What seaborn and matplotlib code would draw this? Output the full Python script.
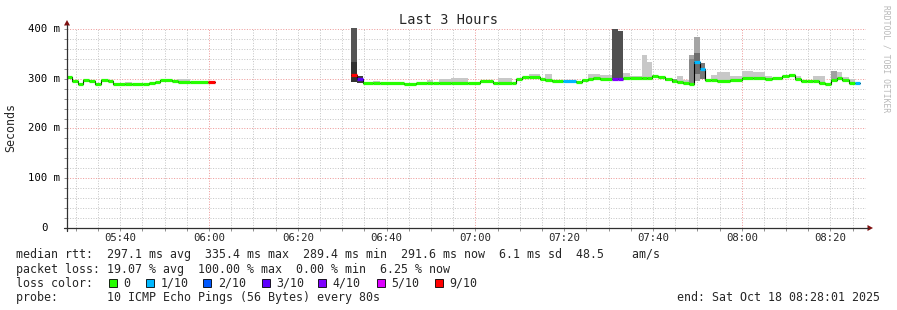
import numpy as np
import pandas as pd
import matplotlib
matplotlib.use("Agg")
import matplotlib.pyplot as plt
import matplotlib.transforms as mtransforms
from matplotlib.patches import Polygon, Rectangle
from matplotlib.lines import Line2D
import seaborn as sns

# ---------------- data ----------------
start_clock = "05:28"          # left edge of the time axis (end 08:28:01, 3 hours)
end_minute = 178.7             # last sample end (minutes after start)

# segment start (minutes after 05:28), median RTT (ms), lost pings (of 10)
seg_start = [0.00, 1.13, 2.48, 3.61, 4.96, 6.31, 7.66, 9.24, 10.37, 13.10,
             14.65, 17.13, 18.48, 19.83, 20.96, 23.66, 25.01, 27.70, 31.77, 33.35,
             64.00, 65.35, 66.70, 69.00, 70.50, 75.94, 78.65, 81.10, 82.50, 83.80,
             86.50, 90.40, 93.10, 96.00, 97.10, 100.30, 101.18, 102.54, 104.10, 106.59,
             107.72, 109.30, 111.77, 114.70, 116.06, 117.41, 118.54, 120.11, 122.82, 124.17,
             125.30, 126.87, 129.58, 130.70, 131.83, 133.18, 134.76, 136.34, 137.46, 138.82,
             140.17, 141.30, 142.65, 143.77, 145.00, 146.48, 149.41, 152.11, 154.59, 157.30,
             158.87, 161.13, 162.70, 164.06, 165.41, 166.76, 168.11, 169.46, 170.82, 172.17,
             173.52, 174.65, 176.23, 177.58]
median_ms = [303, 296, 290, 297.5, 295, 290, 297.5, 295, 290, 290,
             290, 289, 291.5, 294, 297.5, 295.5, 293, 293, 293, np.nan,
             307, 299, 292, 292, 292, 289.5, 292, 292, 292, 292,
             292, 292, 295, 292, 292, 292, 299, 303, 303, 300,
             297, 296, 296, 293, 297.5, 299.5, 301, 300, 300, 300,
             301, 301, 301, 301, 305, 303, 299, 295, 294, 292,
             289.5, 333, 319, 298, 298, 295, 297.5, 301.5, 301.5, 300,
             301.5, 305, 307, 299.5, 296, 296, 295, 292, 289.5, 297.5,
             301.5, 297.5, 292, 292]
loss = [0, 0, 0, 0, 0, 0, 0, 0, 0, 0,
        0, 0, 0, 0, 0, 0, 0, 0, 9, 0,
        9, 3, 0, 0, 0, 0, 0, 0, 0, 0,
        0, 0, 0, 0, 0, 0, 0, 0, 0, 0,
        0, 0, 1, 0, 0, 0, 0, 0, 4, 4,
        0, 0, 0, 0, 0, 0, 0, 0, 0, 0,
        0, 1, 1, 0, 0, 0, 0, 0, 0, 0,
        0, 0, 0, 0, 0, 0, 0, 0, 0, 0,
        0, 0, 0, 1]
# smoke (spread of the individual pings), ms, and its grey level (0-255)
smoke_lo = [np.nan, np.nan, np.nan, np.nan, np.nan, np.nan, np.nan, 295, np.nan, 290,
            np.nan, np.nan, 288, np.nan, np.nan, np.nan, 293, np.nan, np.nan, np.nan,
            294, 292, np.nan, 292, np.nan, np.nan, np.nan, 292, np.nan, 292,
            292, np.nan, np.nan, np.nan, 292, np.nan, np.nan, np.nan, 303, 300,
            297, 296, np.nan, np.nan, 297.5, 299.5, 301, 300, 300, 300,
            301, 301, 301, 301, 305, 303, 296, 292, 294, 292,
            289, 296, 300, np.nan, 298, 295, 297.5, 301.5, 301.5, 300,
            np.nan, np.nan, 305, 299.5, np.nan, np.nan, 295, 292, np.nan, 297.5,
            301.5, 297.5, 292, np.nan]
smoke_hi = [np.nan, np.nan, np.nan, np.nan, np.nan, np.nan, np.nan, 298, np.nan, 293,
            np.nan, np.nan, 291.5, np.nan, np.nan, np.nan, 300, np.nan, np.nan, np.nan,
            402, 306, np.nan, 295, np.nan, np.nan, np.nan, 297, np.nan, 299,
            301, np.nan, np.nan, np.nan, 301, np.nan, np.nan, np.nan, 309, 302,
            309, 298, np.nan, np.nan, 300, 309, 309, 307, 400, 395,
            311, 305, 348, 334, 307, 306, 301, 299, 305, 298,
            348, 384, 331, np.nan, 308, 313, 306, 315, 313, 306,
            np.nan, np.nan, 309, 306, np.nan, np.nan, 306, 306, np.nan, 315,
            313, 304, 299, np.nan]
smoke_grey = [200, 200, 200, 200, 200, 200, 200, 200, 200, 200,
              200, 200, 110, 200, 200, 200, 200, 200, 200, 200,
              85, 60, 200, 200, 200, 200, 200, 200, 200, 200,
              200, 200, 200, 200, 200, 200, 200, 200, 200, 200,
              200, 200, 200, 200, 200, 200, 200, 200, 80, 80,
              200, 200, 200, 200, 200, 200, 140, 140, 200, 200,
              165, 165, 120, 200, 200, 200, 200, 200, 200, 200,
              200, 200, 140, 200, 200, 200, 200, 200, 200, 160,
              200, 200, 200, 200]
# darker core of the smoke where visible
core_lo = {20: 294, 60: 289, 61: 310}
core_hi = {20: 334, 60: 340, 61: 352}
core_grey = {20: 50, 60: 135, 61: 110}

loss_levels = [0, 1, 2, 3, 4, 5, 9]
loss_labels = ["0", "1/10", "2/10", "3/10", "4/10", "5/10", "9/10"]
loss_colors = ["#26ff00", "#00b8ff", "#0059ff", "#5e00ff", "#7e00ff", "#dd00ff", "#ff0000"]

xtick_labels = ["05:40", "06:00", "06:20", "06:40", "07:00", "07:20", "07:40", "08:00", "08:20"]
ytick_values = [0, 100, 200, 300, 400]
ytick_labels = ["0", "100 m", "200 m", "300 m", "400 m"]

title = "Last 3 Hours"
ylabel = "Seconds"
legend_lines = [
    "median rtt:  297.1 ms avg  335.4 ms max  289.4 ms min  291.6 ms now  6.1 ms sd  48.5    am/s",
    "packet loss: 19.07 % avg  100.00 % max  0.00 % min  6.25 % now",
    "loss color:",
    "probe:       10 ICMP Echo Pings (56 Bytes) every 80s",
]
end_text = "end: Sat Oct 18 08:28:01 2025"
watermark = "RRDTOOL / TOBI OETIKER"

# ---------------- figure ----------------
sns.set_theme(style="white")
plt.rcParams["font.family"] = ["DejaVu Sans Mono", "DejaVu Sans"]

W, H = 897, 310
fig = plt.figure(figsize=(W / 100, H / 100), dpi=100, facecolor="white")


def fx(px):
    return px / W


def fy(py):
    return 1 - py / H


ax = fig.add_axes([fx(67), fy(228), fx(866) - fx(67), fy(28) - fy(228)])
ax.set_facecolor("white")
for s in ax.spines.values():
    s.set_visible(False)
ax.set_xlim(0, 180)
ax.set_ylim(0, 402)


def clock_to_min(c):
    h, m = c.split(":")
    sh, sm = start_clock.split(":")
    return (int(h) * 60 + int(m)) - (int(sh) * 60 + int(sm))


xtick_pos = [clock_to_min(c) for c in xtick_labels]

# grid
dot = (0, (1, 1.6))
minor_col = "#c6c6c6"
major_col = "#ee9a9a"
minor_x = np.arange(clock_to_min("05:30"), 181, 5)
hour_mod = clock_to_min("06:00") % 60
for t in minor_x:
    ax.axvline(t, color=major_col if t % 60 == hour_mod else minor_col,
               lw=0.72, ls=dot, zorder=0.5, snap=True)
for v in np.arange(20, 401, 20):
    ax.axhline(v, color=major_col if v % 100 == 0 else minor_col,
               lw=0.72, ls=dot, zorder=0.5, snap=True)

seg_start_a = np.array(seg_start, dtype=float)
seg_end_a = np.append(seg_start_a[1:], end_minute)
med = np.array(median_ms, dtype=float)
lo = np.array(smoke_lo, dtype=float)
hi = np.array(smoke_hi, dtype=float)

# smoke
for i in range(len(seg_start_a)):
    if np.isfinite(hi[i]) and np.isfinite(lo[i]):
        g = smoke_grey[i] / 255
        ax.bar(seg_start_a[i], hi[i] - lo[i], bottom=lo[i], width=seg_end_a[i] - seg_start_a[i],
               align="edge", color=(g, g, g), lw=0, zorder=1)
    if i in core_lo:
        g = core_grey[i] / 255
        ax.bar(seg_start_a[i], core_hi[i] - core_lo[i], bottom=core_lo[i],
               width=seg_end_a[i] - seg_start_a[i], align="edge", color=(g, g, g), lw=0, zorder=1.1)

# median step line (black), separate sections around the gap
rows = []
section = 0
for i in range(len(seg_start_a)):
    if np.isnan(med[i]):
        rows.append((seg_start_a[i], med[i - 1], section))
        section += 1
        continue
    rows.append((seg_start_a[i], med[i], section))
rows.append((end_minute, med[-1], section))
df = pd.DataFrame(rows, columns=["t", "median", "section"])
sns.lineplot(data=df, x="t", y="median", units="section", estimator=None, sort=False,
             drawstyle="steps-post", color="black", lw=0.8, ax=ax, legend=False, zorder=2)

# loss-coloured median
cmap = dict(zip(loss_levels, loss_colors))
ok = np.isfinite(med)
ax.hlines(med[ok], seg_start_a[ok], seg_end_a[ok],
          colors=[cmap[l] for l, k in zip(loss, ok) if k], lw=2.3, zorder=3,
          capstyle="butt")

ax.set_xlabel("")
ax.set_ylabel("")

# ticks
ax.set_xticks(xtick_pos)
ax.set_xticklabels(xtick_labels, fontsize=7.7)
ax.set_xticks(minor_x, minor=True)
ax.set_yticks(ytick_values)
ax.set_yticklabels([])
ax.set_yticks(np.arange(0, 401, 20), minor=True)
ax.tick_params(axis="x", which="both", direction="out", length=2, width=0.7,
               color="#909090", pad=1.5, bottom=True)
ax.tick_params(axis="y", which="both", direction="out", length=2, width=0.7,
               color="#909090", left=True)
ytrans = mtransforms.offset_copy(ax.get_yaxis_transform(), fig=fig, x=-7, y=0, units="dots")
ytrans0 = mtransforms.offset_copy(ax.get_yaxis_transform(), fig=fig, x=-19, y=0, units="dots")
for v, lab in zip(ytick_values, ytick_labels):
    tr = ytrans if " " in lab else ytrans0
    ax.text(0, v, lab, transform=tr, ha="right", va="center", fontsize=7.7, color="black")

# axes lines and arrows
axis_col = "#303030"
arrow_col = "#7f1010"
fig.add_artist(Line2D([fx(67), fx(67)], [fy(231), fy(25)], color=axis_col, lw=0.9))
fig.add_artist(Line2D([fx(64), fx(868)], [fy(228), fy(228)], color=axis_col, lw=0.9))
fig.add_artist(Polygon([[fx(64), fy(25.5)], [fx(70), fy(25.5)], [fx(67), fy(20)]],
                       closed=True, color=arrow_col, lw=0))
fig.add_artist(Polygon([[fx(867.5), fy(225)], [fx(867.5), fy(231)], [fx(873), fy(228)]],
                       closed=True, color=arrow_col, lw=0))

# texts
fig.text(fx(448), fy(24), title, ha="center", va="baseline", fontsize=9.8)
fig.text(fx(11), fy(127), ylabel, rotation=90, ha="center", va="center", fontsize=8.4)
fig.text(fx(886), fy(5), watermark, rotation=270, ha="center", va="top", fontsize=5.8,
         color="#b8b8b8")

baselines = [258.3, 272.6, 286.8, 301.0]
for txt, b in zip(legend_lines, baselines):
    fig.text(fx(16), fy(b), txt, ha="left", va="baseline", fontsize=8.4)
fig.text(fx(880), fy(301.0), end_text, ha="right", va="baseline", fontsize=8.4)

box_x = [109, 145.7, 203.3, 261.7, 318.3, 376.7, 435]
for bx, c, lab in zip(box_x, loss_colors, loss_labels):
    fig.add_artist(Rectangle((fx(bx), fy(286.5)), 8 / W, 8 / H, facecolor=c,
                             edgecolor="black", lw=0.6))
    fig.text(fx(bx + 14.5), fy(286.8), lab, ha="left", va="baseline", fontsize=8.4)

fig.savefig("out.png", dpi=100, facecolor="white")
